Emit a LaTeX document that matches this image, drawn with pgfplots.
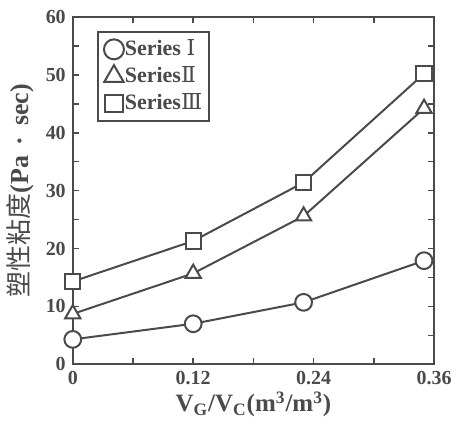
\documentclass[border=0pt]{standalone}
\usepackage{fontspec}
\setmainfont{Liberation Serif}
\newfontfamily\cjk{Noto Sans CJK SC}
\newfontfamily\romnum{DejaVu Serif}
\usepackage{pgfplots}
\pgfplotsset{compat=1.18}
\definecolor{ink}{HTML}{4A4A4A}

\begin{document}
\begin{tikzpicture}[every node/.append style={text=ink}]
\begin{axis}[
    scale only axis,
    width=181pt, height=174pt,
    xmin=0, xmax=0.36, ymin=0, ymax=60,
    xtick={0,0.12,0.24,0.36},
    xticklabels={0,0.12,0.24,0.36},
    minor xtick={0.06,0.18,0.30},
    ytick={0,10,20,30,40,50,60},
    minor ytick={5,15,25,35,45,55},
    tick align=inside,
    major tick length=3pt, minor tick length=3pt,
    axis line style={ink, line width=1pt},
    tick style={ink, line width=0.8pt},
    /pgf/number format/assume math mode=true,
    ticklabel style={font=\bfseries\fontsize{10}{11}\selectfont},
    xlabel={V\textsubscript{G}/V\textsubscript{C}(m\textsuperscript{3}/m\textsuperscript{3})},
    xlabel style={font=\bfseries\fontsize{12.5}{13}\selectfont, at={(axis description cs:0.5,-0.115)}, anchor=center},
    ylabel={{\cjk\mdseries 塑性粘度}(Pa \,·\, sec)},
    ylabel style={font=\bfseries\fontsize{13}{14}\selectfont, at={(axis description cs:-0.145,0.5)}, anchor=center},
    clip=false,
    legend cell align=left,
    legend style={at={(axis description cs:0.067,0.96)}, anchor=north west,
        draw=ink, line width=1pt, font=\bfseries\fontsize{11}{12}\selectfont,
        inner xsep=3pt, inner ysep=2pt, row sep=0pt,
        nodes={inner xsep=0.5pt}},
    legend image code/.code={\draw[#1, only marks] plot coordinates {(0.15cm,0cm)};},
]
\addplot[ink, line width=1pt, mark=*, mark size=4.2pt, mark options={fill=white, solid},
    legend image post style={mark size=5pt}]
    coordinates {(0,4.3) (0.12,7.0) (0.23,10.7) (0.35,17.9)};
\addplot[ink, line width=1pt, mark=triangle*, mark size=4.4pt, mark options={fill=white, solid},
    legend image post style={mark size=5.6pt}]
    coordinates {(0,8.7) (0.12,15.7) (0.23,25.6) (0.35,44.2)};
\addplot[ink, line width=1pt, mark=square*, mark size=3.8pt, mark options={fill=white, solid},
    legend image post style={mark size=4.3pt}]
    coordinates {(0,14.3) (0.12,21.3) (0.23,31.4) (0.35,50.2)};
\legend{Series {\romnum\mdseries Ⅰ}, Series{\romnum\mdseries Ⅱ}, Series{\romnum\mdseries Ⅲ}}
\end{axis}
\path (current axis.south west) ++(-36pt,-28pt) coordinate (bl);
\path (current axis.north east) ++(17pt,8.5pt) coordinate (tr);
\path (bl) rectangle (tr);
\end{tikzpicture}
\end{document}
